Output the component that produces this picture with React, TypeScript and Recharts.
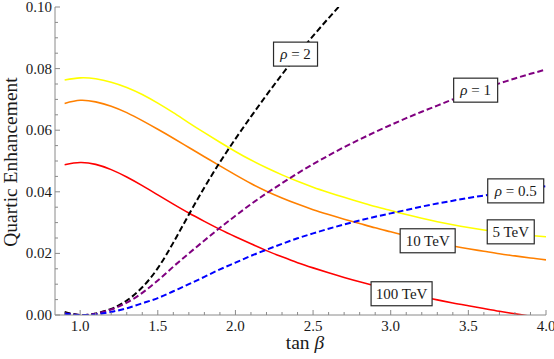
import React from "react";
import { LineChart, Line, XAxis, YAxis, ReferenceDot } from "recharts";

// ---------- data ----------
const tanBeta = [0.9, 1.0, 1.1, 1.2, 1.3, 1.4, 1.5, 1.6, 1.7, 1.8, 1.9, 2.0, 2.1, 2.2, 2.3, 2.4, 2.5, 2.6, 2.7, 2.8, 2.9, 3.0, 3.1, 3.2, 3.3, 3.4, 3.5, 3.6, 3.7, 3.8, 3.9, 4.0];

const tev5 = [0.0763, 0.0770, 0.0767, 0.0756, 0.0739, 0.0716, 0.0688, 0.0657, 0.0624, 0.0592, 0.0561, 0.0531, 0.0503, 0.0478, 0.0455, 0.0434, 0.0415, 0.0398, 0.0382, 0.0367, 0.0352, 0.0339, 0.0326, 0.0314, 0.0303, 0.0293, 0.0284, 0.0276, 0.0269, 0.0263, 0.0258, 0.0254];
const tev10 = [0.0687, 0.0697, 0.0692, 0.0678, 0.0657, 0.0631, 0.0603, 0.0574, 0.0544, 0.0514, 0.0484, 0.0455, 0.0427, 0.0402, 0.0380, 0.0360, 0.0342, 0.0326, 0.0311, 0.0297, 0.0283, 0.0270, 0.0257, 0.0245, 0.0234, 0.0224, 0.0215, 0.0207, 0.0199, 0.0192, 0.0185, 0.0179];
const tev100 = [0.0488, 0.0495, 0.0489, 0.0472, 0.0448, 0.0420, 0.0390, 0.0360, 0.0331, 0.0304, 0.0278, 0.0254, 0.0231, 0.0209, 0.0189, 0.0170, 0.0153, 0.0137, 0.0122, 0.0108, 0.0095, 0.0082, 0.0070, 0.0059, 0.0049, 0.0039, 0.0030, 0.0021, 0.0012, 0.0004, -0.0004, -0.0011];
const rho2 = [0.0010, 0.0000, 0.0005, 0.0020, 0.0047, 0.0090, 0.0152, 0.0235, 0.0326, 0.0414, 0.0496, 0.0572, 0.0644, 0.0714, 0.0781, 0.0845, 0.0906, 0.0964, 0.1020, null, null, null, null, null, null, null, null, null, null, null, null, null];
const rho1 = [0.0006, 0.0000, 0.0004, 0.0018, 0.0040, 0.0072, 0.0112, 0.0157, 0.0200, 0.0242, 0.0283, 0.0322, 0.0360, 0.0395, 0.0428, 0.0460, 0.0490, 0.0518, 0.0545, 0.0570, 0.0594, 0.0617, 0.0639, 0.0660, 0.0680, 0.0700, 0.0718, 0.0736, 0.0752, 0.0768, 0.0783, 0.0797];
const rho05 = [0.0004, 0.0000, 0.0002, 0.0010, 0.0022, 0.0038, 0.0055, 0.0077, 0.0100, 0.0124, 0.0148, 0.0170, 0.0192, 0.0212, 0.0231, 0.0249, 0.0265, 0.0280, 0.0294, 0.0307, 0.0319, 0.0330, 0.0341, 0.0352, 0.0362, 0.0371, 0.0380, 0.0388, 0.0396, 0.0404, 0.0411, 0.0418];

const xTicks = [0.9, 1.0, 1.1, 1.2, 1.3, 1.4, 1.5, 1.6, 1.7, 1.8, 1.9, 2.0, 2.1, 2.2, 2.3, 2.4, 2.5, 2.6, 2.7, 2.8, 2.9, 3.0, 3.1, 3.2, 3.3, 3.4, 3.5, 3.6, 3.7, 3.8, 3.9, 4.0];
const yTicks = [0, 0.005, 0.01, 0.015, 0.02, 0.025, 0.03, 0.035, 0.04, 0.045, 0.05, 0.055, 0.06, 0.065, 0.07, 0.075, 0.08, 0.085, 0.09, 0.095, 0.1];

const labelTexts = ["ρ = 2", "ρ = 1", "ρ = 0.5", "5 TeV", "10 TeV", "100 TeV"];
const labelX = [2.387, 3.547, 3.805, 3.773, 3.238, 3.07];
const labelY = [0.0847, 0.073, 0.0403, 0.027, 0.0241, 0.0069];
const labelW = [44, 44, 56, 47, 55, 61];

const data = tanBeta.map((x, i) => ({
  x,
  tev5: tev5[i],
  tev10: tev10[i],
  tev100: tev100[i],
  rho2: rho2[i],
  rho1: rho1[i],
  rho05: rho05[i],
}));

// ---------- styling ----------
const FONT = '"Liberation Serif", "Times New Roman", Times, serif';
const FRAME = "#8a8a8a";
const TEXT = "#1a1a1a";
const X_DOMAIN: [number, number] = [0.838, 4.0];
const Y_DOMAIN: [number, number] = [0, 0.1];

const tickText = { fontFamily: FONT, fontSize: 15 };
const titleText = { fontFamily: FONT, fontSize: 19.5 };

const isMajor = (v: number, step: number) => {
  const r = v / step;
  return Math.abs(r - Math.round(r)) < 1e-6;
};

const BottomTick = (props: any) => {
  const { x, y, payload } = props;
  const v = payload.value;
  const major = isMajor(v, 0.5);
  return (
    <g>
      <line x1={x} x2={x} y1={y} y2={y - (major ? 5 : 3)} stroke={FRAME} strokeWidth={1} />
      {major && (
        <text x={x} y={y + 15.5} textAnchor="middle" style={tickText} fill={TEXT}>
          {v.toFixed(1)}
        </text>
      )}
    </g>
  );
};

const TopTick = (props: any) => {
  const { x, y, payload } = props;
  const major = isMajor(payload.value, 0.5);
  return <line x1={x} x2={x} y1={y} y2={y + (major ? 5 : 3)} stroke={FRAME} strokeWidth={1} />;
};

const LeftTick = (props: any) => {
  const { x, y, payload } = props;
  const v = payload.value;
  const major = isMajor(v, 0.02);
  return (
    <g>
      <line x1={x} x2={x + (major ? 5 : 3)} y1={y} y2={y} stroke={FRAME} strokeWidth={1} />
      {major && (
        <text x={x - 3} y={y + 5} textAnchor="end" style={tickText} fill={TEXT}>
          {v.toFixed(2)}
        </text>
      )}
    </g>
  );
};

const RightTick = (props: any) => {
  const { x, y, payload } = props;
  const major = isMajor(payload.value, 0.02);
  return <line x1={x} x2={x - (major ? 5 : 3)} y1={y} y2={y} stroke={FRAME} strokeWidth={1} />;
};

const makeBox = (text: string, w: number) => (props: any) => {
  const { cx, cy } = props;
  const h = 24;
  const isRho = text.startsWith("ρ");
  return (
    <g>
      <rect x={cx - w / 2} y={cy - h / 2} width={w} height={h} fill="#ffffff" stroke="#2a2a2a" strokeWidth={1.2} />
      <text x={cx} y={cy + 5} textAnchor="middle" style={tickText} fill={TEXT}>
        {isRho ? (
          <>
            <tspan style={{ fontStyle: "italic" }}>ρ</tspan>
            <tspan>{text.slice(1)}</tspan>
          </>
        ) : (
          text
        )}
      </text>
    </g>
  );
};

const XLabel = () => (
  <text x={305} y={349} textAnchor="middle" style={titleText} fill={TEXT}>
    tan <tspan style={{ fontStyle: "italic" }}>β</tspan>
  </text>
);

const YLabel = () => (
  <text x={17} y={162} transform="rotate(-90 17 162)" textAnchor="middle" style={titleText} fill={TEXT}>
    Quartic Enhancement
  </text>
);

export default function App() {
  return (
    <div style={{ position: "absolute", left: 0, top: 0, width: 554, height: 359, background: "#ffffff" }}>
      <LineChart width={554} height={359} data={data} margin={{ top: 7, right: 8, bottom: 0, left: 0 }}>
        <XAxis
          dataKey="x"
          type="number"
          domain={X_DOMAIN}
          allowDataOverflow
          ticks={xTicks}
          interval={0}
          height={44}
          tickSize={0}
          tickMargin={0}
          tickLine={false}
          axisLine={{ stroke: FRAME }}
          tick={<BottomTick />}
          label={{ content: <XLabel /> }}
        />
        <XAxis
          xAxisId="top"
          orientation="top"
          dataKey="x"
          type="number"
          domain={X_DOMAIN}
          allowDataOverflow
          ticks={xTicks}
          interval={0}
          height={0}
          tickSize={0}
          tickMargin={0}
          tickLine={false}
          axisLine={{ stroke: FRAME }}
          tick={<TopTick />}
        />
        <YAxis
          type="number"
          domain={Y_DOMAIN}
          allowDataOverflow
          ticks={yTicks}
          interval={0}
          width={55}
          tickSize={0}
          tickMargin={0}
          tickLine={false}
          axisLine={{ stroke: FRAME }}
          tick={<LeftTick />}
          label={{ content: <YLabel /> }}
        />
        <YAxis
          yAxisId="right"
          orientation="right"
          type="number"
          domain={Y_DOMAIN}
          allowDataOverflow
          ticks={yTicks}
          interval={0}
          width={0}
          tickSize={0}
          tickMargin={0}
          tickLine={false}
          axisLine={{ stroke: FRAME }}
          tick={<RightTick />}
        />
        <Line dataKey="tev5" type="natural" stroke="#ffff00" strokeWidth={1.6} dot={false} isAnimationActive={false} />
        <Line dataKey="tev10" type="natural" stroke="#ff8000" strokeWidth={1.6} dot={false} isAnimationActive={false} />
        <Line dataKey="tev100" type="natural" stroke="#ff0000" strokeWidth={1.6} dot={false} isAnimationActive={false} />
        <Line dataKey="rho2" type="natural" stroke="#000000" strokeWidth={2} strokeDasharray="6 3" dot={false} isAnimationActive={false} />
        <Line dataKey="rho1" type="natural" stroke="#800080" strokeWidth={2} strokeDasharray="6 3" dot={false} isAnimationActive={false} />
        <Line dataKey="rho05" type="natural" stroke="#0000ff" strokeWidth={2} strokeDasharray="6 3" dot={false} isAnimationActive={false} />
        {labelTexts.map((t, i) => (
          <ReferenceDot key={t} x={labelX[i]} y={labelY[i]} ifOverflow="visible" shape={makeBox(t, labelW[i])} />
        ))}
      </LineChart>
    </div>
  );
}
